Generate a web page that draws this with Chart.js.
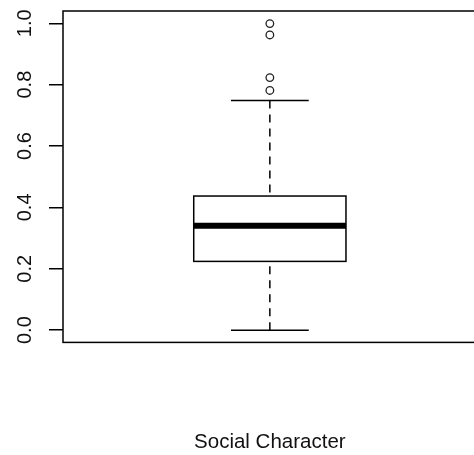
<!DOCTYPE html>
<html>
<head>
<meta charset="utf-8">
<title>Social Character</title>
<script src="https://cdn.jsdelivr.net/npm/chart.js@4"></script>
<style>
  html, body { margin: 0; padding: 0; background: #fff; overflow: hidden; }
  #wrap { position: absolute; left: 0; top: 0; width: 474px; height: 455px; overflow: hidden; }
  canvas { display: block; }
</style>
</head>
<body>
<div id="wrap"><canvas id="chart" width="482" height="455"></canvas></div>
<script>
// Data
const categories = ['Social Character'];
const whiskerLow = [0.0];
const quartile1 = [0.224];
const medians = [0.340];
const quartile3 = [0.437];
const whiskerHigh = [0.748];
const outliers = [[0.781, 0.823, 0.962, 0.999]];
const tickValues = [0.0, 0.2, 0.4, 0.6, 0.8, 1.0];

const FONT_FAMILY = '"Liberation Sans", Arial, Helvetica, sans-serif';

// Box and whisker drawing, using the chart's scales
const boxPlotPlugin = {
  id: 'boxPlot',
  afterDatasetsDraw(chart) {
    const { ctx, chartArea, scales } = chart;
    const xs = scales.x, ys = scales.y;
    ctx.save();
    ctx.strokeStyle = '#000';
    categories.forEach((cat, i) => {
      const xc = xs.getPixelForValue(i + 1);
      const bx0 = xs.getPixelForValue(i + 1 - 0.184);
      const bx1 = xs.getPixelForValue(i + 1 + 0.184);
      const cx0 = xs.getPixelForValue(i + 1 - 0.094);
      const cx1 = xs.getPixelForValue(i + 1 + 0.094);
      const yLo = ys.getPixelForValue(whiskerLow[i]);
      const yQ1 = ys.getPixelForValue(quartile1[i]);
      const yMed = ys.getPixelForValue(medians[i]);
      const yQ3 = ys.getPixelForValue(quartile3[i]);
      const yHi = ys.getPixelForValue(whiskerHigh[i]);

      // dashed whiskers
      ctx.lineWidth = 1.5;
      ctx.setLineDash([8, 6]);
      ctx.beginPath();
      ctx.moveTo(xc, yHi); ctx.lineTo(xc, yQ3);
      ctx.moveTo(xc, yLo); ctx.lineTo(xc, yQ1);
      ctx.stroke();
      ctx.setLineDash([]);

      // caps
      ctx.beginPath();
      ctx.moveTo(cx0, yHi); ctx.lineTo(cx1, yHi);
      ctx.moveTo(cx0, yLo); ctx.lineTo(cx1, yLo);
      ctx.stroke();

      // box
      ctx.strokeRect(bx0, yQ3, bx1 - bx0, yQ1 - yQ3);

      // median
      ctx.lineWidth = 6;
      ctx.beginPath();
      ctx.moveTo(bx0, yMed); ctx.lineTo(bx1, yMed);
      ctx.stroke();
    });

    // frame round the plot region
    ctx.lineWidth = 1.5;
    ctx.strokeRect(chartArea.left, chartArea.top, chartArea.right - chartArea.left, chartArea.bottom - chartArea.top);
    ctx.restore();
  }
};

const outlierPoints = [];
outliers.forEach((list, i) => list.forEach(v => outlierPoints.push({ x: i + 1, y: v })));

new Chart(document.getElementById('chart'), {
  type: 'scatter',
  data: {
    datasets: [{
      label: 'outliers',
      data: outlierPoints,
      pointStyle: 'circle',
      pointRadius: 3.8,
      pointBorderWidth: 1.3,
      pointBorderColor: '#222',
      pointBackgroundColor: 'rgba(0,0,0,0)'
    }]
  },
  options: {
    responsive: false,
    animation: false,
    devicePixelRatio: 1,
    layout: { padding: { top: 11, right: 0, bottom: 0, left: 0 } },
    plugins: { legend: { display: false }, tooltip: { enabled: false } },
    scales: {
      x: {
        type: 'linear',
        min: 0.5,
        max: 1.5,
        grid: { display: false },
        border: { display: false },
        ticks: { display: false },
        afterFit(scale) {
          scale.paddingLeft = 0;
          scale.paddingRight = 0;
        },
        title: {
          display: true,
          text: categories[0],
          color: '#111',
          font: { family: FONT_FAMILY, size: 20.5 },
          padding: { top: 80, bottom: 0 }
        }
      },
      y: {
        type: 'linear',
        min: -0.04,
        max: 1.04,
        afterBuildTicks(scale) {
          scale.ticks = tickValues.map(v => ({ value: v }));
        },
        afterFit(scale) {
          scale.width = 63;
          scale.paddingTop = 0;
          scale.paddingBottom = 0;
        },
        grid: {
          drawOnChartArea: false,
          drawTicks: true,
          tickLength: 14,
          color: '#000',
          lineWidth: 1.5
        },
        border: { display: false },
        ticks: {
          minRotation: 90,
          maxRotation: 90,
          crossAlign: 'center',
          padding: 10,
          color: '#111',
          font: { family: FONT_FAMILY, size: 20 },
          callback: v => Number(v).toFixed(1)
        }
      }
    }
  },
  plugins: [boxPlotPlugin]
});
</script>
</body>
</html>
